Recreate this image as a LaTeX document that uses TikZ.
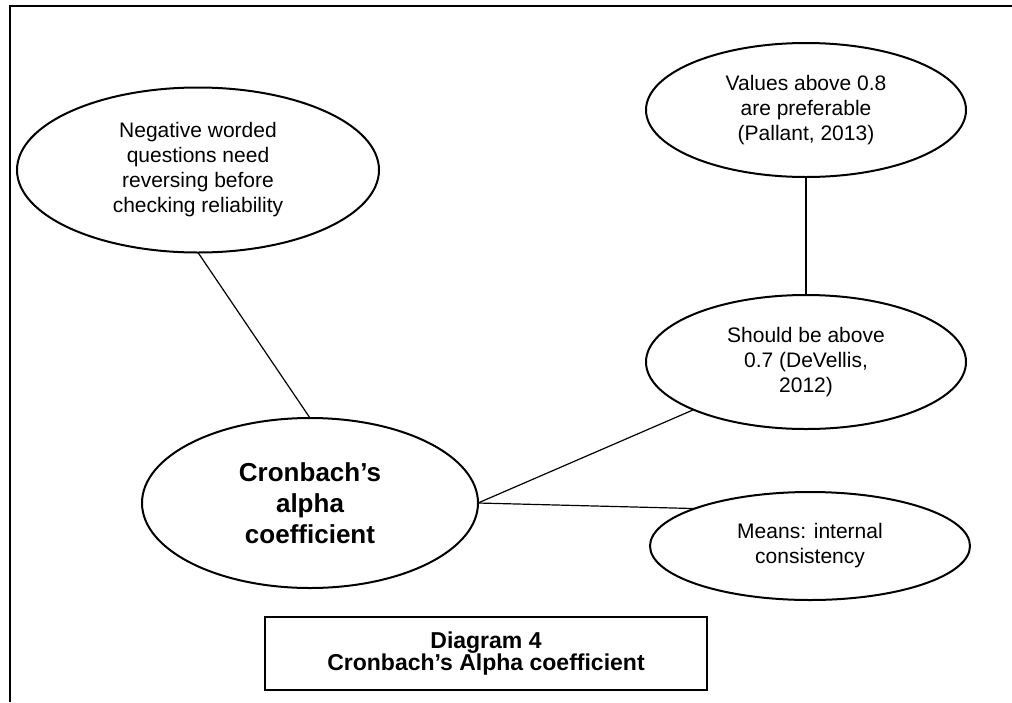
\documentclass[tikz,border=0pt]{standalone}
\usepackage{fontspec}
\setmainfont{Liberation Sans}
\usetikzlibrary{shapes.geometric,positioning}

\begin{document}
\begin{tikzpicture}[x=1pt, y=-1pt, node distance=60pt,
  idea/.style={draw, ellipse, line width=2pt, inner sep=0pt, outer sep=0pt,
    align=center, font=\fontsize{21}{25}\selectfont,
    minimum width=320pt, minimum height=134pt},
  link/.style={draw, line width=1.2pt}
]
\useasboundingbox (0,0) rectangle (1012,702);
% page frame, top and left edges only
\draw[line width=2.5pt] (1012,6) -- (10,6) -- (10,702);

\node[idea, minimum width=336pt, minimum height=170pt,
  font=\bfseries\fontsize{26}{31}\selectfont] (alpha) at (310,503)
  {Cronbach’s\\alpha\\coefficient};
\node[idea, minimum width=362pt, minimum height=165pt] (reverse) at (198,170)
  {Negative worded\\questions need\\reversing before\\checking reliability};
\node[idea] (above7) at (806,362) {Should be above\\0.7 (DeVellis,\\2012)};
\node[idea, above=118pt of above7] (above8)
  {Values above 0.8\\are preferable\\(Pallant, 2013)};
\node[idea, minimum height=108pt, below=63pt of above7, xshift=4pt] (means)
  {Means: internal\\consistency};

\draw[link] (reverse.south) -- (alpha.north);
\draw[link] (above8.south) -- (above7.north);
\draw[link] (alpha.east) -- (above7.203);
\draw[link] (alpha.east) -- (means.162);

% caption
\node[draw, line width=1.5pt, inner sep=0pt, minimum width=442pt,
  minimum height=73pt, align=center,
  font=\bfseries\fontsize{23}{22}\selectfont] (caption) at (486,653.5)
  {Diagram 4\\Cronbach’s Alpha coefficient};
\end{tikzpicture}
\end{document}
